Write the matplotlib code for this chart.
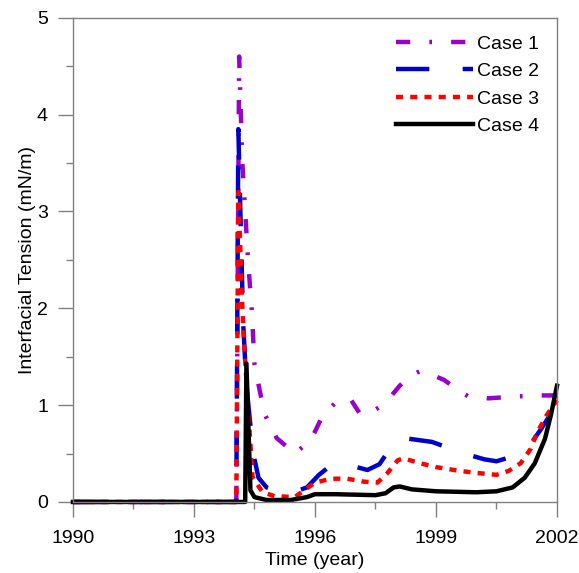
import numpy as np
import matplotlib
matplotlib.use("Agg")
import matplotlib.pyplot as plt

plt.rcParams['font.family'] = ['Liberation Sans', 'DejaVu Sans']

# values (time in years, IFT in mN/m)
t1 = [1990, 1994.05, 1994.12, 1994.2, 1994.34, 1994.43, 1994.5, 1994.63, 1994.76, 1995.05,
      1995.5, 1995.9, 1996.2, 1996.5, 1996.75, 1996.9, 1997.1, 1997.3, 1997.6, 1997.9,
      1998.1, 1998.35, 1998.6, 1998.8, 1999.2, 1999.5, 1999.8, 2000.3, 2001.0, 2001.6, 2002]
case1 = [0, 0, 4.6, 3.5, 2.5, 2.0, 1.43, 1.15, 0.9, 0.66,
         0.5, 0.64, 0.9, 1.02, 1.07, 1.05, 0.92, 0.9, 0.98, 1.1,
         1.2, 1.3, 1.35, 1.33, 1.26, 1.17, 1.09, 1.07, 1.09, 1.1, 1.1]

t2 = [1990, 1994.05, 1994.1, 1994.18, 1994.22, 1994.3, 1994.47, 1994.6, 1994.8, 1995.05,
      1995.6, 1995.8, 1996.1, 1996.4, 1996.8, 1997.03, 1997.3, 1997.6, 1998.0, 1998.2,
      1998.9, 1999.3, 1999.7, 2000.2, 2000.5, 2000.9, 2001.3, 2001.6, 2001.8, 2002]
case2 = [0, 0, 3.85, 2.5, 1.85, 1.2, 0.5, 0.25, 0.15, 0.12,
         0.12, 0.15, 0.28, 0.38, 0.4, 0.36, 0.33, 0.39, 0.64, 0.66,
         0.62, 0.56, 0.5, 0.44, 0.42, 0.47, 0.57, 0.75, 0.88, 1.05]

t3 = [1990, 1994.05, 1994.1, 1994.2, 1994.27, 1994.45, 1994.7, 1995.0, 1995.5, 1996.0,
      1996.4, 1996.8, 1997.2, 1997.55, 1997.8, 1998.05, 1998.2, 1998.6, 1999.0, 1999.6,
      2000.0, 2000.5, 2000.8, 2001.1, 2001.35, 2001.5, 2001.75, 2002]
case3 = [0, 0, 3.2, 2.0, 1.45, 0.26, 0.1, 0.06, 0.05, 0.2,
         0.24, 0.24, 0.21, 0.2, 0.3, 0.43, 0.45, 0.4, 0.36, 0.32,
         0.3, 0.28, 0.32, 0.4, 0.55, 0.71, 0.9, 1.05]

t4 = [1990, 1994.27, 1994.3, 1994.4, 1994.5, 1994.8, 1995.4, 1995.8, 1996.0, 1996.5,
      1997.5, 1997.75, 1997.95, 1998.1, 1998.4, 1999.0, 2000.0, 2000.5, 2000.9, 2001.2,
      2001.45, 2001.7, 2001.85, 2002]
case4 = [0, 0, 1.43, 0.12, 0.05, 0.02, 0.02, 0.05, 0.08, 0.08,
         0.07, 0.09, 0.15, 0.16, 0.13, 0.11, 0.1, 0.11, 0.15, 0.25,
         0.4, 0.65, 0.9, 1.2]

labels = ['Case 1', 'Case 2', 'Case 3', 'Case 4']
xticks = [1990, 1993, 1996, 1999, 2002]

fig = plt.figure(figsize=(5.79, 5.73), dpi=100)
ax = fig.add_axes([0.126, 0.124, 0.836, 0.845])

ax.plot(t1, case1, color='#9900CC', lw=3.2, ls=(0, (3.2, 4.3, 0.6, 4.3)), label=labels[0], clip_on=False)
ax.plot(t2, case2, color='#0000CC', lw=3.2, ls=(0, (7.5, 7.5)), label=labels[1], clip_on=False)
ax.plot(t3, case3, color='#FF0000', lw=3.2, ls=(0, (1.6, 1.6)), label=labels[2], clip_on=False)
ax.plot(t4, case4, color='black', lw=3.2, ls='-', label=labels[3], clip_on=False)

ax.set_xlim(1990, 2002)
ax.set_ylim(0, 5)
ax.set_xticks(xticks)
ax.set_xticks(np.arange(1990, 2002.1, 1.5), minor=True)
ax.set_yticks(np.arange(0, 5.1, 1))
ax.set_yticks(np.arange(0, 5.1, 0.5), minor=True)
ax.tick_params(which='major', direction='out', length=11, width=1, color='#808080',
               labelsize=14)
ax.tick_params(axis='x', which='major', pad=9)
ax.tick_params(axis='y', which='major', pad=7)
ax.tick_params(which='minor', direction='out', length=5, width=1, color='#808080')
for s in ax.spines.values():
    s.set_color('#808080')
    s.set_linewidth(1)

ax.set_xlabel('Time (year)', fontsize=14, labelpad=4)
ax.set_ylabel('Interfacial Tension (mN/m)', fontsize=14, labelpad=1)

ax.legend(loc='upper right', frameon=False, fontsize=14, handlelength=4.0,
          handletextpad=0.2, labelspacing=0.5, borderaxespad=0.5)

fig.savefig('out.png', dpi=100)
